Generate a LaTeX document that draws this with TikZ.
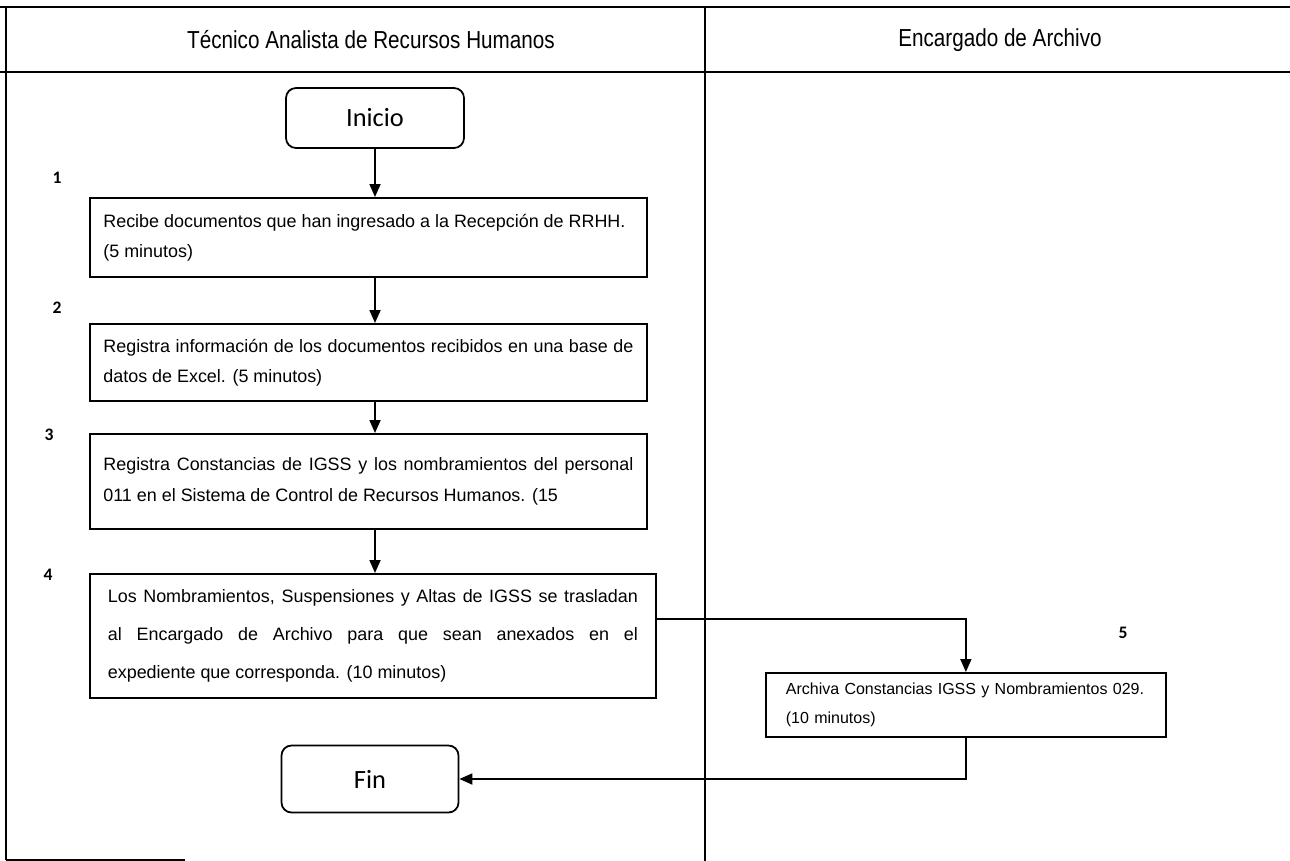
\documentclass[tikz,border=0pt]{standalone}
\usepackage{fontspec}
\setmainfont{Liberation Sans}
\newfontfamily\carlito{Carlito}
\newfontfamily\lanefont[FakeStretch=0.84]{Liberation Sans}
\usetikzlibrary{arrows.meta}

\begin{document}
\begin{tikzpicture}[
  x = 0.2mm, y = -0.2mm,
  rule/.style     = {draw, line width=1pt},
  lane/.style     = {font=\lanefont\fontsize{14}{16}\selectfont},
  stepbox/.style  = {draw, line width=1pt, anchor=north west, text width=10.6cm,
                     inner xsep=2.7mm, inner ysep=0pt, align=justify,
                     font=\fontsize{10.2}{17}\selectfont},
  term/.style     = {draw, line width=1pt, rounded corners=2mm,
                     minimum width=35.6mm, minimum height=12mm,
                     font=\carlito\fontsize{15}{18}\selectfont},
  num/.style      = {font=\carlito\bfseries\fontsize{10}{12}\selectfont},
  flow/.style     = {draw, line width=1pt, -{Triangle[length=2.6mm, width=2.2mm]}},
]

\useasboundingbox (0,0) rectangle (1290,861);

% table
\draw[rule] (0,7) -- (1290,7);
\draw[rule] (0,72) -- (1290,72);
\draw[rule] (6,7) -- (6,860);
\draw[rule] (705,7) -- (705,861);
\draw[draw, line width=0.6pt] (6,860) -- (185,860);

\node[lane] (tecnico)   at (371,40)  {Técnico Analista de Recursos Humanos};
\node[lane] (encargado) at (1000,40) {Encargado de Archivo};

% steps
\node[term] (inicio) at (375,118) {Inicio};

\node[stepbox, minimum height=15.8mm] (recibe) at (89,197)
  {Recibe documentos que han ingresado a la Recepción de RRHH.\\(5 minutos)};
\node[stepbox, minimum height=15.4mm] (registra) at (89,323)
  {Registra información de los documentos recibidos en una base de\linebreak
   datos de Excel. (5 minutos)};
\node[stepbox, minimum height=19mm, font=\fontsize{10.2}{18}\selectfont] (constancias) at (89,433)
  {\parfillskip=0pt Registra Constancias de IGSS y los nombramientos del personal\linebreak
   011 en el Sistema de Control de Recursos Humanos. (15};
\node[stepbox, minimum height=24.8mm, inner xsep=3.6mm, font=\fontsize{10.2}{21.6}\selectfont] (traslada) at (89,573)
  {Los Nombramientos, Suspensiones y Altas de IGSS se trasladan\linebreak
   al Encargado de Archivo para que sean anexados en el\linebreak
   expediente que corresponda. (10 minutos)};
\node[stepbox, minimum height=12.8mm, text width=7.2cm, inner xsep=4mm, align=left,
      font=\fontsize{9.1}{16}\selectfont] (archiva) at (765,672)
  {Archiva Constancias IGSS y Nombramientos 029.\\(10 minutos)};

\node[term, minimum width=35.4mm, minimum height=13.4mm] (fin) at (370,779) {Fin};

\foreach \n/\x/\y in {1/57/178, 2/57/308, 3/49/435, 4/48/575, 5/1123/633}
  \node[num] (n\n) at (\x,\y) {\n};

% connectors
\draw[flow] (inicio.south) -- (inicio.south |- recibe.north);
\draw[flow] (inicio.south |- recibe.south) -- (inicio.south |- registra.north);
\draw[flow] (inicio.south |- registra.south) -- (inicio.south |- constancias.north);
\draw[flow] (inicio.south |- constancias.south) -- (inicio.south |- traslada.north);
\draw[flow] ([yshift=3.4mm]traslada.east) -| (archiva.north);
\draw[flow] (archiva.south) |- (fin.east);

\end{tikzpicture}
\end{document}
